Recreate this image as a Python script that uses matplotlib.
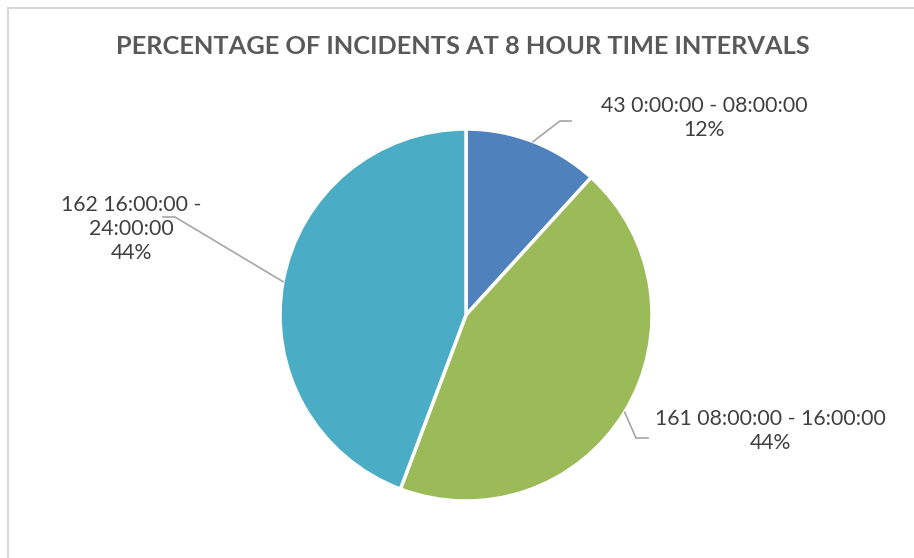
import numpy as np
import matplotlib
import matplotlib.pyplot as plt

matplotlib.rcParams['font.family'] = ['Lato', 'DejaVu Sans']

# data
counts = [43, 161, 162]
intervals = ["0:00:00 - 08:00:00", "08:00:00 - 16:00:00", "16:00:00 -\n24:00:00"]
colors = ["#4F81BD", "#9BBB59", "#4BACC6"]
title = "PERCENTAGE OF INCIDENTS AT 8 HOUR TIME INTERVALS"

W, H = 914, 558
fig = plt.figure(figsize=(W / 100, H / 100), dpi=100)
ax = fig.add_axes([0, 0, 1, 1])

cx, cy, r = 466, H - 315, 186
wedges, _ = ax.pie(counts, colors=colors, startangle=90, counterclock=False,
                   center=(cx, cy), radius=r,
                   wedgeprops=dict(edgecolor="white", linewidth=2.5))
ax.set_xlim(0, W)
ax.set_ylim(0, H)
ax.set_aspect("equal")
ax.axis("off")

# chart frame (top and left edge only visible)
ax.plot([8, W], [H - 8, H - 8], color="#D9D9D9", lw=1.5, clip_on=False)
ax.plot([8, 8], [H - 8, 0], color="#D9D9D9", lw=1.5, clip_on=False)

ax.text(463, H - 47, title, ha="center", va="center", fontsize=18.3,
        fontweight="bold", color="#595959")

total = sum(counts)
# label placement: (elbow x, elbow y, end x, text x, text y)
layout = [(560, 121, 571, 704, 118),
          (636, 438, 648, 770, 431),
          (175, 217, 163, 131, 229)]
for w, n, lab, (ex, ey, tx, lx, ly) in zip(wedges, counts, intervals, layout):
    mid = np.deg2rad((w.theta1 + w.theta2) / 2)
    px, py = cx + r * np.cos(mid), cy + r * np.sin(mid)
    ax.plot([px, ex, tx], [py, H - ey, H - ey], color="#A6A6A6", lw=1.2)
    pct = "%d%%" % round(100.0 * n / total)
    ax.text(lx, H - ly, "%d %s\n%s" % (n, lab, pct), ha="center", va="center",
            fontsize=15.3, color="#404040", linespacing=1.25)

fig.savefig("out.png", dpi=100)
